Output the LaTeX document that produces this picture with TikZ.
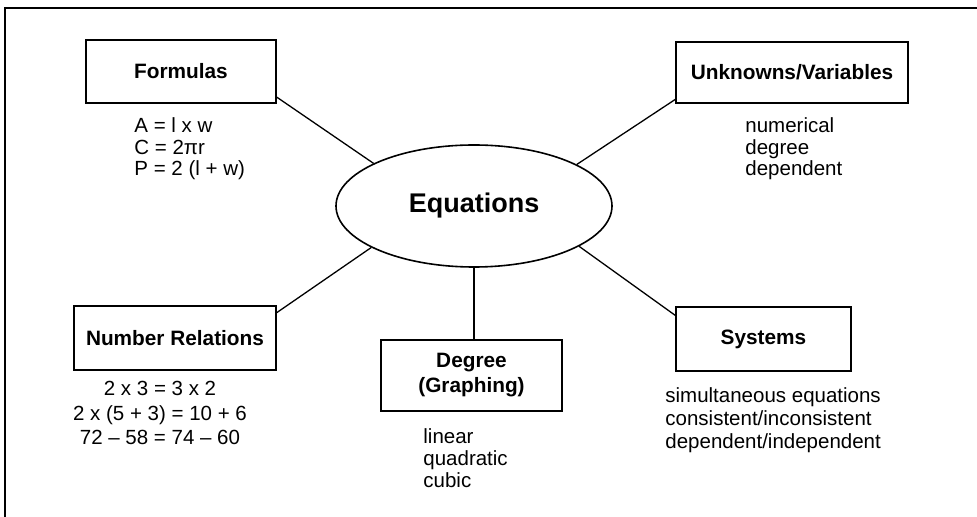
\documentclass[tikz,border=0pt]{standalone}
\usepackage{fontspec}
\setmainfont{Liberation Sans}
\usetikzlibrary{shapes.geometric}

\tikzset{
  topic/.style={draw, line width=0.8pt, align=center, inner sep=0pt,
    font=\bfseries\fontsize{10.4}{12.5}\selectfont},
  hub/.style={ellipse, draw, line width=0.8pt, minimum width=138pt,
    minimum height=61pt, inner sep=0pt, font=\bfseries\fontsize{13.5}{15}\selectfont},
  items/.style={inner sep=0pt, anchor=north west, align=left,
    font=\fontsize{10.25}{10.9}\selectfont},
  link/.style={line width=0.65pt}
}

\begin{document}
\begin{tikzpicture}[x=0.5pt, y=-0.5pt]
\useasboundingbox (0,0) rectangle (977,517);
\draw[line width=1pt] (5,517) -- (5,8) -- (977,8);

\node[hub] (eq) at (474,206) {Equations};

\node[topic, minimum width=95pt, minimum height=31.5pt] (form) at (181,71.5) {Formulas};
\node[topic, minimum width=116pt, minimum height=30.5pt] (unk) at (792,72.5) {Unknowns/Variables};
\node[topic, minimum width=101pt, minimum height=32pt] (nr) at (175,338) {Number Relations};
\node[topic, minimum width=90.5pt, minimum height=35.5pt] (deg) at (471.5,375.5) {Degree\\(Graphing)};
\node[topic, minimum width=87.5pt, minimum height=32pt] (sys) at (763.5,339) {Systems};

\draw[link] (form.-15) -- (eq.157);
\draw[link] (unk.193) -- (eq.22);
\draw[link] (nr.14) -- (eq.202);
\draw[link] (sys.165) -- (eq.-21);
\draw[link] (eq.south) -- (eq.south |- deg.north);

\node[items] (formlist) at (134,117) {A = l x w\\C = 2πr\\P = 2 (l + w)};
\node[items] (unklist) at (745,117) {numerical\\degree\\dependent};
\node[items, anchor=north, align=center, font=\fontsize{10.25}{12.3}\selectfont] (nrlist) at (160,381)
  {2 x 3 = 3 x 2\\2 x (5 + 3) = 10 + 6\\72 – 58 = 74 – 60};
\node[items, font=\fontsize{10.25}{11}\selectfont] (deglist) at (423,428) {linear\\quadratic\\cubic};
\node[items, font=\fontsize{10.25}{11.5}\selectfont] (syslist) at (665,387)
  {simultaneous equations\\consistent/inconsistent\\dependent/independent};
\end{tikzpicture}
\end{document}
